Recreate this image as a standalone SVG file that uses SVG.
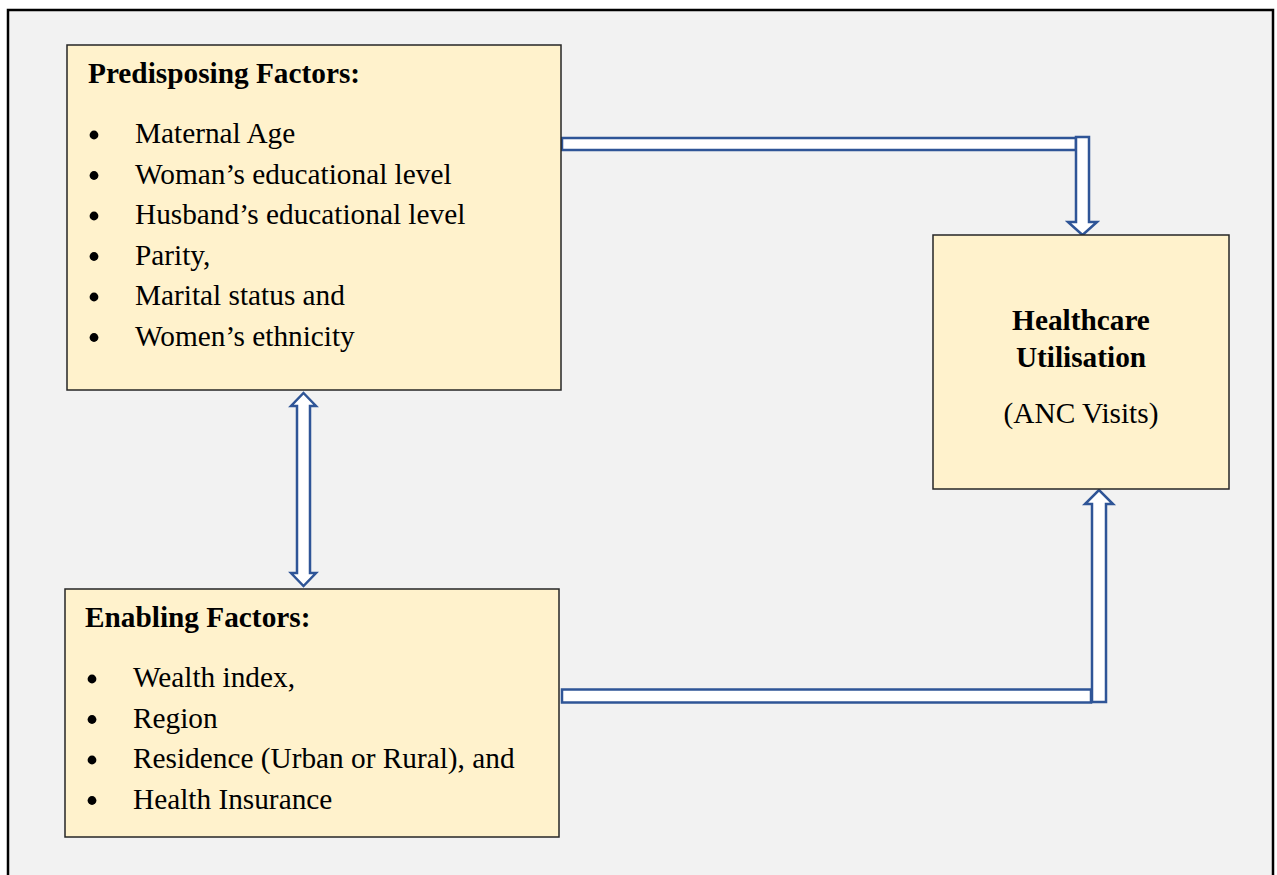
<svg xmlns="http://www.w3.org/2000/svg" width="1277" height="875" viewBox="0 0 1277 875">
<style>
.box{fill:#fff2cc;stroke:#262626;stroke-width:1.5}
.arr{fill:#ffffff;stroke:#2f5597;stroke-width:2.5;stroke-linejoin:miter}
.t{font-family:"Liberation Serif","Times New Roman",serif;font-size:29.3px;fill:#000}
.b{font-weight:bold}
.c{text-anchor:middle}
.dot{fill:#000}
</style>
<defs><circle id="bul" r="4.4" class="dot"/></defs>
<rect x="0" y="0" width="1277" height="875" fill="#ffffff"/>
<rect x="8" y="10" width="1265" height="880" fill="#f2f2f2" stroke="#000" stroke-width="2.5"/>
<g id="connectors">
<rect class="arr" x="562" y="138" width="514" height="12"/>
<polygon class="arr" points="1076,137 1089,137 1089,222 1097,222 1082.5,235 1068,222 1076,222"/>
<rect class="arr" x="562" y="689.5" width="529" height="13"/>
<polygon class="arr" points="1092,702 1106,702 1106,504 1113,504 1099,490 1085,504 1092,504"/>
<polygon class="arr" points="303.5,393 316,406 310,406 310,573 316,573 303.5,586 291,573 297,573 297,406 291,406"/>
</g>
<g id="predisposing">
<rect class="box" x="67" y="45" width="494" height="345"/>
<text class="t b" x="88" y="83">Predisposing Factors:</text>
<use href="#bul" x="94" y="135"/>
<use href="#bul" x="94" y="175.5"/>
<use href="#bul" x="94" y="216"/>
<use href="#bul" x="94" y="256.5"/>
<use href="#bul" x="94" y="297"/>
<use href="#bul" x="94" y="337.5"/>
<g class="t">
<text x="135" y="143">Maternal Age</text>
<text x="135" y="183.5">Woman’s educational level</text>
<text x="135" y="224">Husband’s educational level</text>
<text x="135" y="264.5">Parity,</text>
<text x="135" y="305">Marital status and</text>
<text x="135" y="345.5">Women’s ethnicity</text>
</g>
</g>
<g id="enabling">
<rect class="box" x="65" y="589" width="494" height="248"/>
<text class="t b" x="85" y="627">Enabling Factors:</text>
<use href="#bul" x="92" y="679"/>
<use href="#bul" x="92" y="719.5"/>
<use href="#bul" x="92" y="760"/>
<use href="#bul" x="92" y="800.5"/>
<g class="t">
<text x="133" y="687">Wealth index,</text>
<text x="133" y="727.5">Region</text>
<text x="133" y="768">Residence (Urban or Rural), and</text>
<text x="133" y="808.5">Health Insurance</text>
</g>
</g>
<g id="healthcare">
<rect class="box" x="933" y="235" width="296" height="254"/>
<text class="t b c" x="1081" y="330">Healthcare</text>
<text class="t b c" x="1081" y="367">Utilisation</text>
<text class="t c" x="1081" y="423">(ANC Visits)</text>
</g>
</svg>
